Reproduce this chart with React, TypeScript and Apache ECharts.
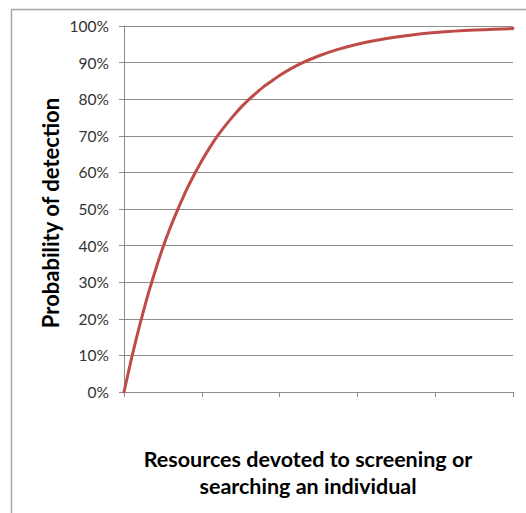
import React, { useEffect, useRef } from "react";
import * as echarts from "echarts";

const resources = [0, 0.1, 0.2, 0.3, 0.4, 0.5, 0.6, 0.7, 0.8, 0.9, 1.0, 1.1, 1.2, 1.3, 1.4, 1.5, 1.6, 1.7, 1.8, 1.9, 2.0, 2.25, 2.5, 2.75, 3, 3.25, 3.5, 3.75, 4, 4.25, 4.5, 4.75, 5];
const detection = [0, 0.095, 0.181, 0.26, 0.33, 0.395, 0.452, 0.503, 0.551, 0.593, 0.632, 0.667, 0.699, 0.727, 0.753, 0.777, 0.798, 0.817, 0.835, 0.85, 0.865, 0.895, 0.918, 0.936, 0.95, 0.961, 0.97, 0.977, 0.982, 0.986, 0.989, 0.991, 0.993];
const yTitle = "Probability of detection";
const xTitleLines = ["Resources devoted to screening or", "searching an individual"];

export default function App() {
  const ref = useRef<HTMLDivElement>(null);
  useEffect(() => {
    document.body.style.margin = "0";
    const chart = echarts.init(ref.current!, undefined, { renderer: "svg" });
    const font = "Lato, 'Open Sans', sans-serif";
    chart.setOption({
      animation: false,
      backgroundColor: "#ffffff",
      grid: { left: 124, right: 13, top: 26, bottom: 121, containLabel: false },
      xAxis: {
        type: "value",
        min: 0,
        max: 5,
        interval: 1,
        axisLine: { show: true, lineStyle: { color: "#8c8c8c", width: 1 } },
        axisTick: { show: true, length: 5, lineStyle: { color: "#8c8c8c" } },
        axisLabel: { show: false },
        splitLine: { show: false },
      },
      yAxis: {
        type: "value",
        min: 0,
        max: 1,
        interval: 0.1,
        axisLine: { show: true, lineStyle: { color: "#8c8c8c", width: 1 } },
        axisTick: { show: true, length: 5, lineStyle: { color: "#8c8c8c" } },
        axisLabel: {
          margin: 15,
          fontFamily: font,
          fontSize: 15.5,
          color: "#333333",
          formatter: (v: number) => Math.round(v * 100) + "%",
        },
        splitLine: { show: true, lineStyle: { color: "#8c8c8c", width: 1 } },
      },
      series: [
        {
          type: "line",
          data: resources.map((r, i) => [r, detection[i]]),
          smooth: 0.2,
          showSymbol: false,
          lineStyle: { color: "#BE4B48", width: 3, join: "round", cap: "round" },
        },
      ],
      graphic: [
        {
          type: "rect",
          shape: { x: 11.5, y: 9.5, width: 700, height: 700 },
          style: { fill: "none", stroke: "#a6a6a6", lineWidth: 1.5 },
          silent: true,
        },
        {
          type: "text",
          x: 50,
          y: 213,
          rotation: Math.PI / 2,
          style: {
            text: yTitle,
            fontFamily: font,
            fontWeight: "bold",
            fontSize: 22,
            fill: "#000000",
            textAlign: "center",
            textVerticalAlign: "middle",
          },
        },
        {
          type: "text",
          x: 308,
          y: 459,
          style: {
            text: xTitleLines[0],
            fontFamily: font,
            fontWeight: "bold",
            fontSize: 21.5,
            fill: "#000000",
            textAlign: "center",
            textVerticalAlign: "middle",
          },
        },
        {
          type: "text",
          x: 308,
          y: 486,
          style: {
            text: xTitleLines[1],
            fontFamily: font,
            fontWeight: "bold",
            fontSize: 21.5,
            fill: "#000000",
            textAlign: "center",
            textVerticalAlign: "middle",
          },
        },
      ],
    });
    return () => chart.dispose();
  }, []);
  return <div ref={ref} style={{ width: 526, height: 513 }} />;
}
